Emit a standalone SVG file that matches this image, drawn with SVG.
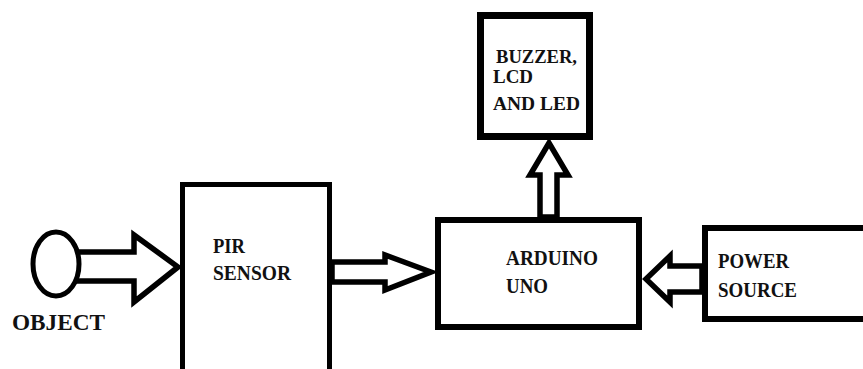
<svg xmlns="http://www.w3.org/2000/svg" width="863" height="369" viewBox="0 0 863 369">
<style>
.box{fill:#fff;stroke:#000;stroke-width:6}
.arr{fill:#fff;stroke:#000;stroke-width:5.5;stroke-linejoin:miter}
text{font-family:'Times New Roman','Liberation Serif',serif;font-weight:bold;font-size:21px;fill:#111}
</style>
<rect width="863" height="369" fill="#fff"/>
<g id="connectors">
<polygon class="arr" points="76,252 134,252 134,235 178,267 134,302 134,281 76,281"/>
<polygon class="arr" points="332,262 385,262 385,255 431,272 385,290 385,282 332,282"/>
<polygon class="arr" points="702,266 670,266 670,256 646,279 670,302 670,292 702,292"/>
<polygon class="arr" points="540,217 540,175 530,175 549,143 568,175 557,175 557,217"/>
</g>
<g id="object">
<ellipse cx="56" cy="264" rx="23" ry="32" fill="#fff" stroke="#000" stroke-width="5"/>
<text x="12" y="330" style="font-size:23px" textLength="93" lengthAdjust="spacingAndGlyphs">OBJECT</text>
</g>
<g id="pir">
<rect class="box" x="182.5" y="184.5" width="147" height="200" style="stroke-width:5"/>
<text x="213" y="253" textLength="32" lengthAdjust="spacingAndGlyphs">PIR</text>
<text x="213" y="280" textLength="78" lengthAdjust="spacingAndGlyphs">SENSOR</text>
</g>
<g id="arduino">
<rect class="box" x="438" y="220" width="201" height="107"/>
<text x="506" y="265" textLength="92" lengthAdjust="spacingAndGlyphs">ARDUINO</text>
<text x="506" y="293" textLength="42" lengthAdjust="spacingAndGlyphs">UNO</text>
</g>
<g id="power">
<rect class="box" x="705" y="228" width="170" height="91"/>
<text x="718" y="268" textLength="71" lengthAdjust="spacingAndGlyphs">POWER</text>
<text x="718" y="297" textLength="79" lengthAdjust="spacingAndGlyphs">SOURCE</text>
</g>
<g id="buzzer">
<rect class="box" x="480.5" y="15.5" width="109" height="121" style="stroke-width:7"/>
<text x="496" y="63" style="font-size:19px" textLength="81" lengthAdjust="spacingAndGlyphs">BUZZER,</text>
<text x="493" y="83" style="font-size:19px" textLength="40" lengthAdjust="spacingAndGlyphs">LCD</text>
<text x="493" y="110" style="font-size:19px" textLength="87" lengthAdjust="spacingAndGlyphs">AND LED</text>
</g>
</svg>
